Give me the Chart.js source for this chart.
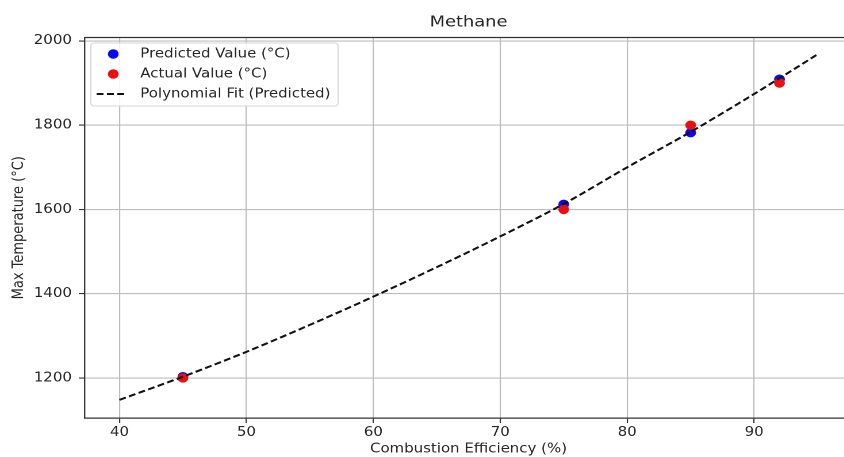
<!DOCTYPE html>
<html><head><meta charset="utf-8">
<script src="https://cdn.jsdelivr.net/npm/chart.js@4.4.1/dist/chart.umd.min.js"></script>
<style>
html,body{margin:0;padding:0;overflow:hidden;background:#fff;}
#wrap{width:844px;height:457px;overflow:hidden;position:relative;background:#fff;}
#c{position:absolute;left:0;top:0;transform:scaleX(1.15);transform-origin:0 0;}
</style></head><body>
<div id="wrap"><canvas id="c" width="746" height="457"></canvas></div>
<script>
// ---- data ----
const efficiency = [45, 75, 85, 92];
const predicted = [1203, 1612, 1782, 1909];
const actual = [1200, 1600, 1800, 1900];
const fitX = [40, 45, 50, 55, 60, 65, 70, 75, 80, 85, 90, 95];
const fitY = [1148, 1203, 1262, 1326, 1393, 1463, 1536, 1613, 1700, 1784, 1874, 1968];
const xTicks = [40, 50, 60, 70, 80, 90];
const yTicks = [1200, 1400, 1600, 1800, 2000];
const titleText = 'Methane';
const xLabel = 'Combustion Efficiency (%)';
const yLabel = 'Max Temperature (°C)';
const seriesLabels = ['Predicted Value (°C)', 'Actual Value (°C)', 'Polynomial Fit (Predicted)'];

const toPts = (xs, ys) => xs.map((x, i) => ({x: x, y: ys[i]}));

const FONT = "'DejaVu Sans', sans-serif";
const TXT = '#262626';

const frameLegend = {
  id: 'frameLegend',
  afterDraw(chart) {
    const ctx = chart.ctx, a = chart.chartArea;
    ctx.save();
    // top spine (right spine lies outside the visible window)
    ctx.strokeStyle = '#333';
    ctx.lineWidth = 1.2;
    ctx.beginPath();
    ctx.moveTo(a.left, a.top);
    ctx.lineTo(a.right + 10, a.top);
    ctx.stroke();
    // legend box
    const bx = a.left + 5.5, by = a.top + 5.5, bw = 215, bh = 63, r = 3;
    ctx.beginPath();
    ctx.moveTo(bx + r, by);
    ctx.arcTo(bx + bw, by, bx + bw, by + bh, r);
    ctx.arcTo(bx + bw, by + bh, bx, by + bh, r);
    ctx.arcTo(bx, by + bh, bx, by, r);
    ctx.arcTo(bx, by, bx + bw, by, r);
    ctx.closePath();
    ctx.fillStyle = 'rgba(255,255,255,0.85)';
    ctx.fill();
    ctx.strokeStyle = '#d6d6d6';
    ctx.lineWidth = 1;
    ctx.stroke();
    ctx.font = '13px ' + FONT;
    ctx.textBaseline = 'middle';
    ctx.textAlign = 'left';
    chart.data.datasets.forEach((ds, i) => {
      const yy = by + 11 + i * 20;
      if (ds.showLine) {
        ctx.strokeStyle = ds.borderColor;
        ctx.lineWidth = ds.borderWidth;
        ctx.setLineDash(ds.borderDash);
        ctx.beginPath();
        ctx.moveTo(bx + 5, yy);
        ctx.lineTo(bx + 32, yy);
        ctx.stroke();
        ctx.setLineDash([]);
      } else {
        ctx.fillStyle = ds.backgroundColor;
        ctx.beginPath();
        ctx.arc(bx + 19.5, yy, ds.pointRadius, 0, Math.PI * 2);
        ctx.fill();
      }
      ctx.fillStyle = TXT;
      ctx.fillText(ds.label, bx + 43, yy);
    });
    ctx.restore();
  }
};

new Chart(document.getElementById('c'), {
  type: 'scatter',
  data: {
    datasets: [
      {label: seriesLabels[0], data: toPts(efficiency, predicted), backgroundColor: '#0a0aee',
       pointRadius: 4.7, pointHoverRadius: 4.7, pointBorderWidth: 0, order: 2},
      {label: seriesLabels[1], data: toPts(efficiency, actual), backgroundColor: '#e81010',
       pointRadius: 4.7, pointHoverRadius: 4.7, pointBorderWidth: 0, order: 1},
      {label: seriesLabels[2], data: toPts(fitX, fitY), showLine: true, borderColor: '#111',
       borderWidth: 2, borderDash: [6, 3], pointRadius: 0, pointHoverRadius: 0,
       fill: false, cubicInterpolationMode: 'monotone', order: 0}
    ]
  },
  options: {
    responsive: false,
    animation: false,
    events: [],
    devicePixelRatio: 2,
    layout: {padding: {left: 0, right: 4, top: 0, bottom: 0}},
    plugins: {
      legend: {display: false},
      tooltip: {enabled: false},
      title: {
        display: true, text: titleText, fullSize: false, color: TXT,
        font: {family: FONT, size: 15.5, weight: 'normal'}, padding: {top: 13, bottom: 5.9}
      }
    },
    scales: {
      x: {
        type: 'linear', min: 37.25, max: 97.75,
        afterBuildTicks: s => { s.ticks = xTicks.map(v => ({value: v})); },
        afterFit: s => { s.height = 39; },
        grid: {color: '#bdbdbd', lineWidth: 1.1, tickColor: '#333', tickLength: 5, tickWidth: 1.1},
        border: {display: true, color: '#333', width: 1.2},
        ticks: {color: TXT, font: {family: FONT, size: 13}, padding: 2, maxRotation: 0, callback: v => String(v)},
        title: {display: true, text: xLabel, color: TXT, font: {family: FONT, size: 13}, padding: {top: 0, bottom: 0}}
      },
      y: {
        type: 'linear', min: 1105, max: 2008,
        afterBuildTicks: s => { s.ticks = yTicks.map(v => ({value: v})); },
        afterFit: s => { s.width = 73.5; },
        grid: {color: '#bdbdbd', lineWidth: 1.1, tickColor: '#333', tickLength: 5, tickWidth: 1.1},
        border: {display: true, color: '#333', width: 1.2},
        ticks: {color: TXT, font: {family: FONT, size: 13}, padding: 6, callback: v => String(v)},
        title: {display: true, text: yLabel, color: TXT, font: {family: FONT, size: 13}, padding: {top: 8.7, bottom: 0}}
      }
    }
  },
  plugins: [frameLegend]
});
</script>
</body></html>
